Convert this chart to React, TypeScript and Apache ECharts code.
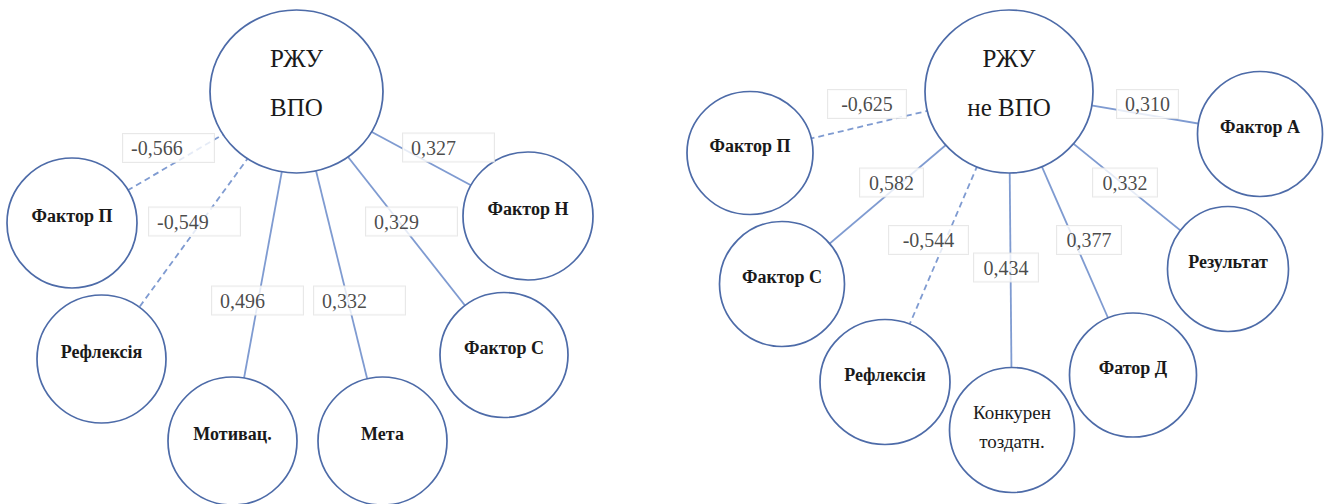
import React, { useEffect, useRef } from "react";
import * as echarts from "echarts";

// ---------- data ----------
const leftCenterName = "РЖУ\nВПО";
const leftFactors = ["Фактор П", "Рефлексія", "Мотивац.", "Мета", "Фактор С", "Фактор Н"];
const leftCorr = [-0.566, -0.549, 0.496, 0.332, 0.329, 0.327];

const rightCenterName = "РЖУ\nне ВПО";
const rightFactors = ["Фактор П", "Фактор С", "Рефлексія", "Конкурен\nтоздатн.", "Фатор Д", "Результат", "Фактор А"];
const rightCorr = [-0.625, 0.582, -0.544, 0.434, 0.377, 0.332, 0.31];

// ---------- layout (page pixels) ----------
const W = 1325;
const H = 504;
const leftCenterPos = [296.5, 91.5];
const leftCenterSize = [173, 163];
const leftFactorPos = [[72, 223], [101.5, 359], [232.5, 441], [382.5, 441], [504, 355], [528, 216]];
const leftFactorSize = [[130, 130], [129, 128], [129, 128], [129, 128], [128, 125], [130, 128]];
// left edge of label box, vertical centre
const leftLabelPos = [[123, 148], [149, 221.5], [212, 300.5], [314, 300.5], [366, 221.5], [403, 147.5]];

const rightCenterPos = [1009, 91.5];
const rightCenterSize = [168, 163];
const rightFactorPos = [[750, 153], [782, 284], [885, 382], [1012, 430], [1133, 375], [1228, 269], [1260, 134]];
const rightFactorSize = [[126, 123], [125, 125], [130, 125], [125, 125], [127, 124], [121, 125], [125, 125]];
// centre of label box
const rightLabelPos = [[867, 104], [891.5, 182.5], [928.5, 240], [1006, 267.5], [1089, 240], [1125, 182.5], [1147.5, 104]];
const rightLabelWidth = [78, 63, 79, 64, 64, 64, 61];

const CIRCLE_PATH =
  "path://M0,50 C0,22.4 22.4,0 50,0 C77.6,0 100,22.4 100,50 C100,77.6 77.6,100 50,100 C22.4,100 0,77.6 0,50 Z";

const fmt = (v: number) => v.toFixed(3).replace(".", ",");
const FONT = "Liberation Serif";

function nodeItems(centerName: string, centerPos: number[], centerSize: number[], names: string[], pos: number[][], sizes: number[][]) {
  const items: any[] = [
    {
      name: centerName,
      value: centerPos,
      symbolSize: centerSize,
      label: { fontFamily: FONT, fontSize: 25, fontWeight: "normal", lineHeight: 49, offset: [0, -9] },
    },
  ];
  names.forEach((n, i) => {
    const multi = n.indexOf("\n") >= 0;
    items.push({
      name: n,
      value: pos[i],
      symbolSize: sizes[i],
      label: multi
        ? { fontFamily: FONT, fontSize: 19, fontWeight: "normal", lineHeight: 29, offset: [0, -3] }
        : { fontFamily: FONT, fontSize: 18, fontWeight: "bold", offset: [0, -7] },
    });
  });
  return items;
}

function edgeItems(centerPos: number[], pos: number[][], corr: number[]) {
  return corr.map((c, i) => ({
    coords: [centerPos, pos[i]],
    lineStyle: { type: c < 0 ? [6, 4] : "solid" },
  }));
}

export default function App() {
  const ref = useRef<HTMLDivElement>(null);

  useEffect(() => {
    if (!ref.current) return;
    const chart = echarts.init(ref.current, undefined, { renderer: "svg" });

    const nodes = [
      ...nodeItems(leftCenterName, leftCenterPos, leftCenterSize, leftFactors, leftFactorPos, leftFactorSize),
      ...nodeItems(rightCenterName, rightCenterPos, rightCenterSize, rightFactors, rightFactorPos, rightFactorSize),
    ];
    const edges = [
      ...edgeItems(leftCenterPos, leftFactorPos, leftCorr),
      ...edgeItems(rightCenterPos, rightFactorPos, rightCorr),
    ];

    const labelBase = {
      show: true,
      position: "inside",
      fontFamily: FONT,
      fontSize: 20,
      color: "#1a1a1a",
      backgroundColor: "#ffffff",
      borderColor: "#e2e2e2",
      borderWidth: 1,
      verticalAlign: "middle",
    };

    chart.setOption({
      animation: false,
      backgroundColor: "#ffffff",
      grid: { left: 0, right: 0, top: 0, bottom: 0, containLabel: false },
      xAxis: { type: "value", min: 0, max: W, show: false },
      yAxis: { type: "value", min: 0, max: H, inverse: true, show: false },
      series: [
        {
          type: "lines",
          coordinateSystem: "cartesian2d",
          silent: true,
          z: 1,
          lineStyle: { color: "#7f9bd1", width: 1.8, opacity: 1 },
          data: edges,
        },
        {
          type: "scatter",
          silent: true,
          z: 2,
          symbol: CIRCLE_PATH,
          itemStyle: { color: "#ffffff", borderColor: "#4d6ba8", borderWidth: 1.7, opacity: 1 },
          label: {
            show: true,
            position: "inside",
            formatter: (p: any) => p.name,
            color: "#1a1a1a",
          },
          data: nodes,
        },
        {
          type: "scatter",
          silent: true,
          z: 3,
          symbolSize: 1,
          itemStyle: { color: "rgba(0,0,0,0)" },
          label: {
            ...labelBase,
            align: "left",
            width: 83,
            padding: [4, 0, 4, 8],
            formatter: (p: any) => fmt(leftCorr[p.dataIndex]),
          },
          data: leftLabelPos.map((p) => ({ value: p })),
        },
        {
          type: "scatter",
          silent: true,
          z: 3,
          symbolSize: 1,
          itemStyle: { color: "rgba(0,0,0,0)" },
          label: {
            ...labelBase,
            align: "center",
            padding: [4, 0, 4, 0],
            formatter: (p: any) => fmt(rightCorr[p.dataIndex]),
          },
          data: rightLabelPos.map((p, i) => ({ value: p, label: { width: rightLabelWidth[i] } })),
        },
      ],
    });

    return () => chart.dispose();
  }, []);

  return (
    <div
      ref={ref}
      style={{ position: "absolute", left: 0, top: 0, width: W, height: H, background: "#fff" }}
    />
  );
}
